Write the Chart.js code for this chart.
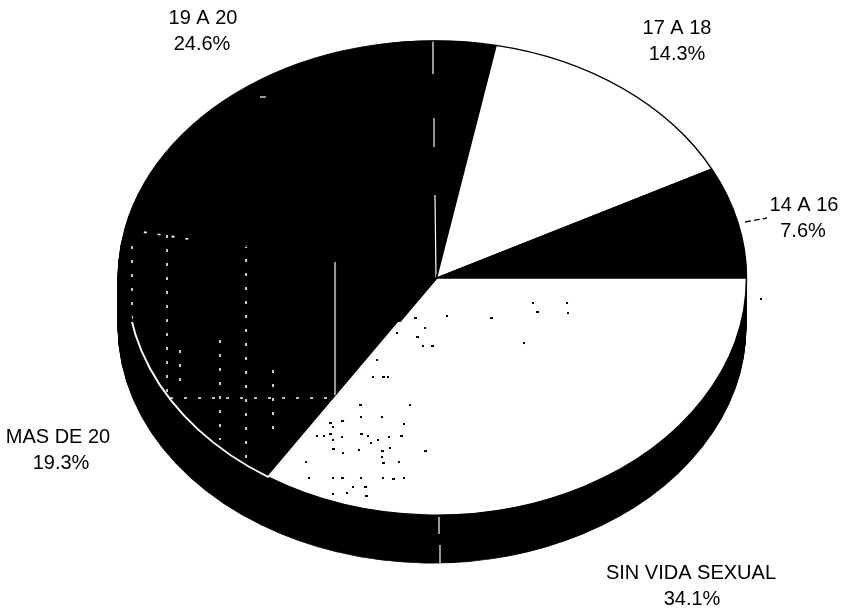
<!DOCTYPE html>
<html>
<head>
<meta charset="utf-8">
<style>
  html, body { margin: 0; padding: 0; background: #fff; }
  canvas { display: block; }
</style>
<script src="https://cdn.jsdelivr.net/npm/chart.js@4/dist/chart.umd.min.js"></script>
</head>
<body>
<canvas id="pieCanvas" width="843" height="610"></canvas>
<script>
// clockwise from 3 o'clock, as in the picture
const categories = ['SIN VIDA SEXUAL', 'MAS DE 20', '19 A 20', '17 A 18', '14 A 16'];
const percents = [34.1, 19.3, 24.6, 14.3, 7.6];

// label placement: center x of name, center x of percent, first baseline
const labelSpots = [[691, 692, 579], [58, 61, 443], [203, 202, 24], [677, 677, 34], [804, 803, 211]];

// the pie as it sits on the page
const PIE_X = 436.5, PIE_Y = 278, PIE_RX = 310, PIE_RY = 237, PIE_DEPTH = 48;
// the black body under it bulges a little further to the left
const BODY_X = 432, BODY_RX = 314;

// scan dirt of the original, page pixels
const blackSpecks = [[415,318],[447,316],[425,328],[417,337],[397,333],[423,346],[432,346],[533,303],[567,303],[537,312],[568,313],[524,343],[491,318],
  [377,360],[373,377],[383,377],[388,377],[410,405],[360,405],[361,417],[382,417],[342,421],[404,424],[333,427],[330,423],
  [317,436],[324,436],[330,434],[333,440],[342,437],[361,434],[368,436],[389,437],[401,436],[378,440],[371,443],
  [333,449],[343,453],[359,450],[382,451],[390,448],[382,457],[383,463],[399,462],[306,462],[425,451],
  [309,478],[333,478],[342,478],[361,478],[383,478],[393,479],[404,478],[353,487],[365,487],[347,493],[333,494],[366,496]];
const solidScratches = [[335,262,335,395],[433,41,433,74],[434,118,434,147],[435,195,436,278],[260,97,266,97]];
const dottedScratches = [[246,245,246,460],[273,370,273,440],[220,340,220,440],[180,350,180,390],[167,235,167,400],[132,232,132,330],[170,398,335,398],[130,230,195,240]];

function makeTexture(paper, ink, draw) {
  const c = document.createElement('canvas');
  c.width = 843; c.height = 610;
  const g = c.getContext('2d');
  g.fillStyle = paper;
  g.fillRect(0, 0, 843, 610);
  g.fillStyle = ink;
  g.strokeStyle = ink;
  draw(g);
  return g.createPattern(c, 'repeat');
}

const lightTexture = makeTexture('#fff', '#000', g => {
  blackSpecks.forEach((s, i) => g.fillRect(s[0] - 1, s[1] - 1, i % 3 ? 2 : 3, 2));
});
const darkTexture = makeTexture('#000', '#fff', g => {
  g.lineWidth = 1.2;
  solidScratches.forEach(s => {
    g.beginPath(); g.moveTo(s[0], s[1]); g.lineTo(s[2], s[3]); g.stroke();
  });
  g.lineWidth = 1.6;
  g.setLineDash([3, 11]);
  dottedScratches.forEach(s => {
    g.beginPath(); g.moveTo(s[0], s[1]); g.lineTo(s[2], s[3]); g.stroke();
  });
});
// the MAS DE 20 rim only shows white on its lower stretch
const rimTexture = makeTexture('#000', '#fff', g => g.fillRect(0, 322, 843, 288));

const WALL_OPTIONS = {
  backgroundColor: '#000', borderColor: '#000', borderWidth: 1, borderAlign: 'center', borderJoinStyle: 'round',
  borderRadius: 0, borderDash: [], borderDashOffset: 0, spacing: 0, offset: 0, circular: true
};

// Chart.js only knows round pies, so squash it and extrude a black wall under it
const tiltPlugin = {
  id: 'tilt',
  beforeDatasetsDraw(chart) {
    const ctx = chart.ctx, arcs = chart.getDatasetMeta(0).data;
    const { x, y, outerRadius } = arcs[0];
    const sx = PIE_RX / outerRadius, sy = PIE_RY / outerRadius;
    // keep the textures in page pixels under that squash
    [lightTexture, darkTexture, rimTexture].forEach(p => {
      p.setTransform(new DOMMatrix([1 / sx, 0, 0, 1 / sy, x - PIE_X / sx, y - PIE_Y / sy]));
    });
    ctx.save();
    const bodyScale = BODY_RX / outerRadius;
    for (let d = PIE_DEPTH; d >= 0; d--) {
      ctx.setTransform(bodyScale, 0, 0, sy, BODY_X - x * bodyScale, PIE_Y + d - y * sy);
      arcs.forEach(arc => {
        const keep = arc.options;
        arc.options = WALL_OPTIONS;
        arc.draw(ctx);
        arc.options = keep;
      });
    }
    ctx.setTransform(sx, 0, 0, sy, PIE_X - x * sx, PIE_Y - y * sy);
  },
  afterDatasetsDraw(chart) {
    chart.ctx.restore();
  },
  afterDraw(chart) {
    const ctx = chart.ctx;
    ctx.save();
    // seam in the wall
    ctx.strokeStyle = '#fff';
    ctx.lineWidth = 1.2;
    ctx.beginPath();
    ctx.moveTo(439, 517); ctx.lineTo(439, 534);
    ctx.moveTo(440, 545); ctx.lineTo(440, 563);
    ctx.stroke();
    // leader of the 14 A 16 label
    ctx.strokeStyle = '#000';
    ctx.lineWidth = 1.3;
    ctx.setLineDash([6, 3]);
    ctx.beginPath();
    ctx.moveTo(745, 222); ctx.lineTo(767, 218);
    ctx.stroke();
    ctx.setLineDash([]);
    ctx.fillStyle = '#000';
    ctx.fillRect(760, 298, 2, 2);
    ctx.font = '20px "Liberation Sans", Arial, sans-serif';
    ctx.textAlign = 'center';
    ctx.textBaseline = 'alphabetic';
    categories.forEach((name, i) => {
      const [nameX, pctX, ly] = labelSpots[i];
      ctx.fillText(name, nameX, ly);
      ctx.fillText(percents[i].toFixed(1) + '%', pctX, ly + 26);
    });
    ctx.restore();
  }
};

new Chart(document.getElementById('pieCanvas'), {
  type: 'pie',
  data: {
    labels: categories,
    datasets: [{
      data: percents,
      backgroundColor: [lightTexture, darkTexture, darkTexture, '#fff', '#000'],
      borderColor: ['#000', rimTexture, '#000', '#000', '#000'],
      borderWidth: [1.5, 2, 1.5, 1.5, 1.5],
      clip: false
    }]
  },
  options: {
    responsive: false,
    animation: false,
    rotation: 90,
    events: [],
    plugins: {
      legend: { display: false },
      tooltip: { enabled: false }
    }
  },
  plugins: [tiltPlugin]
});
</script>
</body>
</html>
